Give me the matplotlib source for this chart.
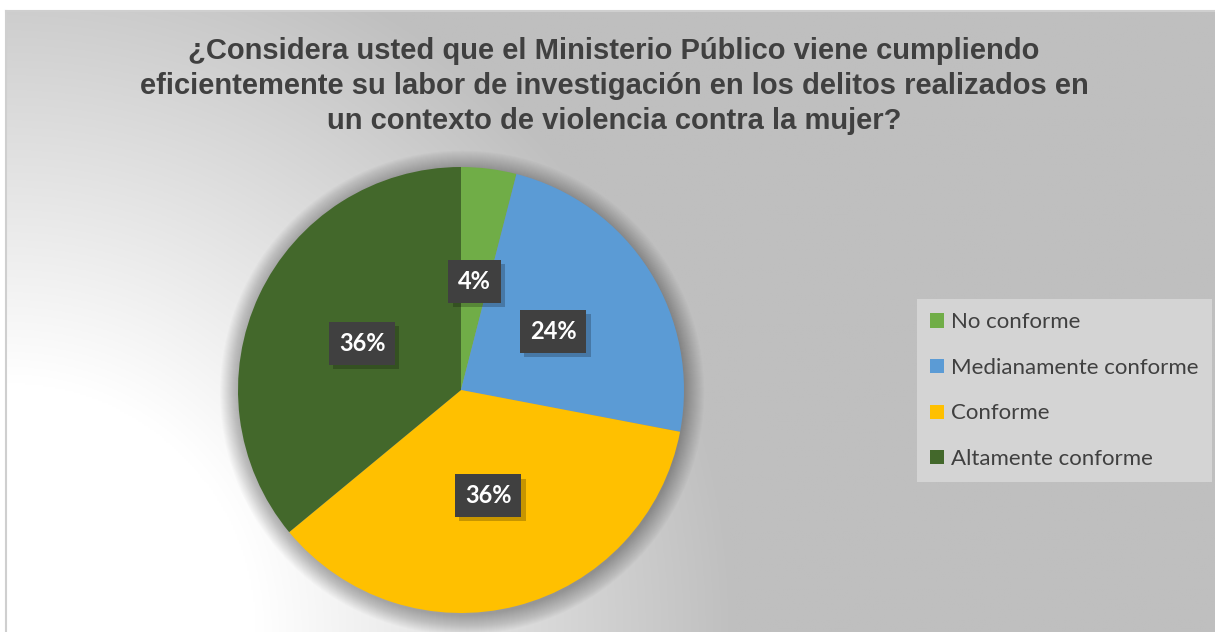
import numpy as np
import matplotlib.pyplot as plt
import matplotlib.patheffects as pe
from matplotlib.patches import Circle, Patch

# data
labels = ['No conforme', 'Medianamente conforme', 'Conforme', 'Altamente conforme']
values = [4, 24, 36, 36]
colors = ['#70AD47', '#5B9BD5', '#FFC000', '#43682B']
title = ('¿Considera usted que el Ministerio Público viene cumpliendo\n'
         'eficientemente su labor de investigación en los delitos realizados en\n'
         'un contexto de violencia contra la mujer?')

W, H = 1215, 632
fig = plt.figure(figsize=(W / 100, H / 100), dpi=100)

# gradient background (white bottom-left -> grey top-right)
bg = fig.add_axes([6 / W, 0, 1 - 6 / W, 621 / H])
xx, yy = np.meshgrid(np.linspace(0, W - 6, 600), np.linspace(0, 621, 300))
d = np.hypot(xx, yy)
t = np.clip((d - 250) / 480, 0, 1)
g = (255 - t * 64) / 255
bg.imshow(np.dstack([g, g, g]), origin='lower', extent=[0, 1, 0, 1], aspect='auto')
bg.set_xlim(0, 1)
bg.set_ylim(0, 1)
bg.set_xticks([])
bg.set_yticks([])
for s in ['bottom', 'right']:
    bg.spines[s].set_visible(False)
for s in ['top', 'left']:
    bg.spines[s].set_color('#CFCFCF')
    bg.spines[s].set_linewidth(1.5)

# pie
ax = fig.add_axes([238 / W, (H - 613) / H, 446 / W, 446 / H])
for i in range(20):
    r = 1.0 + 0.0045 * i
    ax.add_patch(Circle((0.005, -0.012), r, color='black', alpha=0.016,
                        lw=0, zorder=0, clip_on=False))
wedges, texts, autotexts = ax.pie(values, colors=colors, startangle=90,
                                  counterclock=False, autopct='%.0f%%',
                                  pctdistance=0.49,
                                  wedgeprops=dict(linewidth=0),
                                  textprops=dict(color='white', fontsize=17,
                                                 fontweight='bold', family='Lato'))
for w in wedges:
    w.set_zorder(1)
for at in autotexts:
    at.set_bbox(dict(boxstyle='square,pad=0.42', fc='#404040', ec='none'))
    at.get_bbox_patch().set_path_effects([
        pe.withSimplePatchShadow(offset=(3, -3), shadow_rgbFace='black', alpha=0.22),
        pe.Normal()])
    at.set_zorder(5)
ax.set_xlim(-1, 1)
ax.set_ylim(-1, 1)
ax.set_aspect('equal')

# title
fig.text(614 / W, 1 - 86 / H, title, ha='center', va='center', fontsize=21,
         fontweight='bold', color='#404040', family='Liberation Sans',
         linespacing=1.3)

# legend
handles = [Patch(facecolor=c, edgecolor='none') for c in colors]
leg = fig.legend(handles, labels, loc='upper left',
                 bbox_to_anchor=(917 / W, 1 - 299 / H),
                 prop=dict(family='Lato', size=16), labelcolor='#404040',
                 frameon=True, fancybox=False, facecolor='#D4D4D4',
                 edgecolor='none', framealpha=1, handlelength=0.6,
                 handleheight=0.6, handletextpad=0.32, labelspacing=1.15,
                 borderpad=0.6, borderaxespad=0)

fig.savefig('out.png', dpi=100)
